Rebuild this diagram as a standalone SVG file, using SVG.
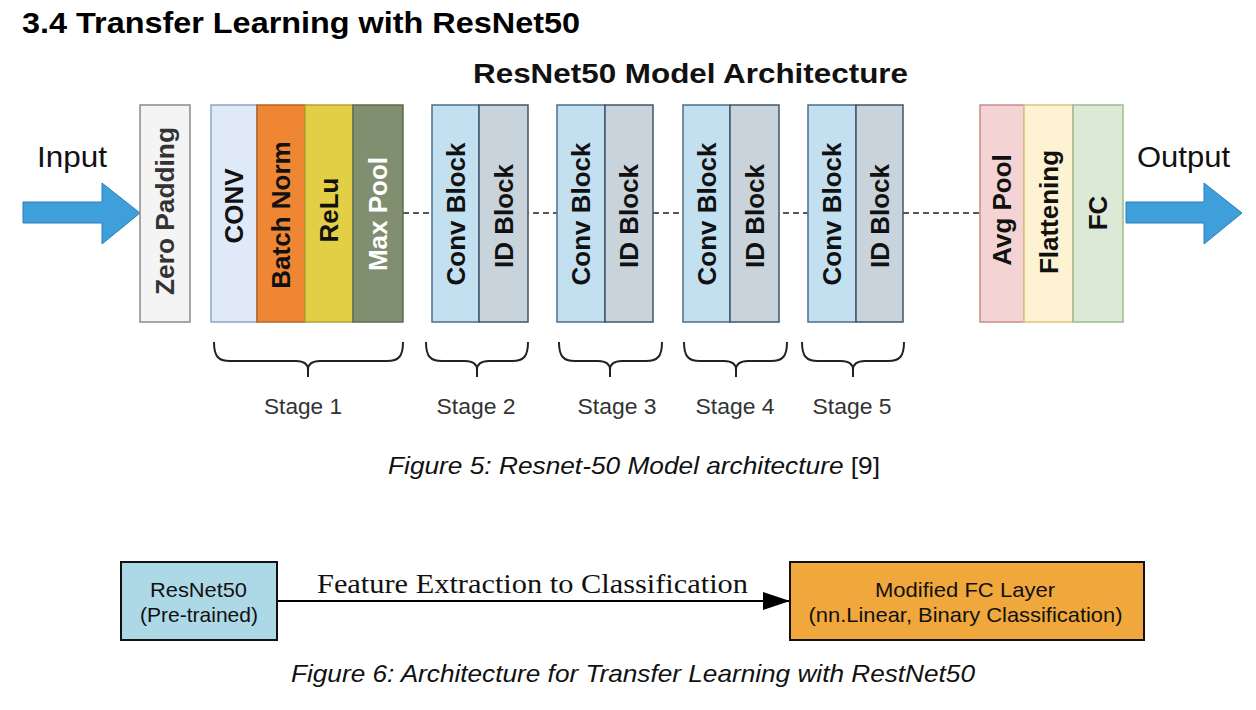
<svg xmlns="http://www.w3.org/2000/svg" width="1256" height="710" viewBox="0 0 1256 710">
<defs>
<style>
.sans{font-family:"Liberation Sans",Arial,sans-serif}
.lbl{font-family:"Liberation Sans",Arial,sans-serif;font-size:26px;font-weight:bold;text-anchor:middle;fill:#111}
.blk{stroke-width:1.5}
.stage{font-family:"Liberation Sans",Arial,sans-serif;font-size:22px;fill:#333;text-anchor:middle}
.brace{fill:none;stroke:#222;stroke-width:2}
.bigarrow{fill:#3f9fdb;stroke:#2b7fb8;stroke-width:1}
.cap{font-family:"Liberation Sans",Arial,sans-serif;font-size:24px;font-style:italic;fill:#111}
.box{stroke:#111;stroke-width:2}
.boxtxt{font-family:"Liberation Sans",Arial,sans-serif;font-size:21px;fill:#111;text-anchor:middle}
</style>
<marker id="ah" markerUnits="userSpaceOnUse" markerWidth="28" markerHeight="18" refX="27" refY="9" orient="auto">
<path d="M0,0 L27,9 L0,18 Z" fill="#000"/>
</marker>
</defs>
<rect width="1256" height="710" fill="#fff"/>

<text class="sans" x="22" y="33" font-size="30" font-weight="bold" fill="#000" textLength="558" lengthAdjust="spacingAndGlyphs">3.4 Transfer Learning with ResNet50</text>
<text class="sans" x="473" y="83" font-size="28" font-weight="bold" fill="#111" textLength="435" lengthAdjust="spacingAndGlyphs">ResNet50 Model Architecture</text>

<g id="connectors">
<line x1="403" y1="213" x2="980" y2="213" stroke="#222" stroke-width="1.5" stroke-dasharray="6 4"/>
<line x1="277" y1="601" x2="790" y2="601" stroke="#000" stroke-width="2" marker-end="url(#ah)"/>
<text x="317" y="593" font-family="'Liberation Serif','Times New Roman',serif" font-size="27" fill="#111" textLength="431" lengthAdjust="spacingAndGlyphs">Feature Extraction to Classification</text>
</g>

<g id="input">
<text class="sans" x="37" y="167" font-size="30" fill="#111" textLength="70" lengthAdjust="spacingAndGlyphs">Input</text>
<polygon class="bigarrow" points="23,202 102,202 102,183 140,213 102,244 102,223 23,223"/>
</g>

<g id="zero-padding">
<rect class="blk" x="140" y="105" width="50" height="217" fill="#f4f4f4" stroke="#8a8a8a"/>
<text class="lbl" transform="translate(165,211) rotate(-90)" dy="0.35em" style="fill:#333" textLength="168" lengthAdjust="spacingAndGlyphs">Zero Padding</text>
</g>

<g id="stage1">
<rect class="blk" x="211" y="105" width="46" height="217" fill="#dfe9f7" stroke="#8aa6c8"/>
<rect class="blk" x="257" y="105" width="48" height="217" fill="#ee8633" stroke="#b56224"/>
<rect class="blk" x="305" y="105" width="48" height="217" fill="#e3cf46" stroke="#b5a232"/>
<rect class="blk" x="353" y="105" width="50" height="217" fill="#7f8f6f" stroke="#5d6b50"/>
<text class="lbl" transform="translate(234,206) rotate(-90)" dy="0.35em">CONV</text>
<text class="lbl" transform="translate(281,215) rotate(-90)" dy="0.35em">Batch Norm</text>
<text class="lbl" transform="translate(329,210) rotate(-90)" dy="0.35em">ReLu</text>
<text class="lbl" transform="translate(378,214) rotate(-90)" dy="0.35em" style="fill:#fff">Max Pool</text>
</g>

<g id="stage2">
<rect class="blk" x="432" y="105" width="47" height="217" fill="#c3e0f0" stroke="#4d6d8c"/>
<rect class="blk" x="479" y="105" width="49" height="217" fill="#c9d3dc" stroke="#3f556b"/>
<text class="lbl" transform="translate(455.5,214) rotate(-90)" dy="0.35em">Conv Block</text>
<text class="lbl" transform="translate(503.5,216) rotate(-90)" dy="0.35em">ID Block</text>
</g>

<g id="stage3">
<rect class="blk" x="557" y="105" width="48" height="217" fill="#c3e0f0" stroke="#4d6d8c"/>
<rect class="blk" x="605" y="105" width="48" height="217" fill="#c9d3dc" stroke="#3f556b"/>
<text class="lbl" transform="translate(581,214) rotate(-90)" dy="0.35em">Conv Block</text>
<text class="lbl" transform="translate(629,216) rotate(-90)" dy="0.35em">ID Block</text>
</g>

<g id="stage4">
<rect class="blk" x="683" y="105" width="47" height="217" fill="#c3e0f0" stroke="#4d6d8c"/>
<rect class="blk" x="730" y="105" width="49" height="217" fill="#c9d3dc" stroke="#3f556b"/>
<text class="lbl" transform="translate(706.5,214) rotate(-90)" dy="0.35em">Conv Block</text>
<text class="lbl" transform="translate(754.5,216) rotate(-90)" dy="0.35em">ID Block</text>
</g>

<g id="stage5">
<rect class="blk" x="808" y="105" width="48" height="217" fill="#c3e0f0" stroke="#4d6d8c"/>
<rect class="blk" x="856" y="105" width="47" height="217" fill="#c9d3dc" stroke="#3f556b"/>
<text class="lbl" transform="translate(832,214) rotate(-90)" dy="0.35em">Conv Block</text>
<text class="lbl" transform="translate(879.5,216) rotate(-90)" dy="0.35em">ID Block</text>
</g>

<g id="head">
<rect class="blk" x="980" y="105" width="44" height="217" fill="#f3d3d3" stroke="#c98c8c"/>
<rect class="blk" x="1024" y="105" width="49" height="217" fill="#fdf3d3" stroke="#dcc47c"/>
<rect class="blk" x="1073" y="105" width="50" height="217" fill="#dde9d7" stroke="#9dbb8f"/>
<text class="lbl" transform="translate(1002,210) rotate(-90)" dy="0.35em">Avg Pool</text>
<text class="lbl" transform="translate(1048.5,212) rotate(-90)" dy="0.35em">Flattening</text>
<text class="lbl" transform="translate(1098,213) rotate(-90)" dy="0.35em">FC</text>
</g>

<g id="output">
<text class="sans" x="1137" y="167" font-size="30" fill="#111" textLength="93" lengthAdjust="spacingAndGlyphs">Output</text>
<polygon class="bigarrow" points="1126,202 1204,202 1204,183 1242,213 1204,244 1204,223 1126,223"/>
</g>

<g id="braces">
<path class="brace" d="M214,342 C214,356 218,361 230,361 L296,361 C304,361 308,364 308,370 L308,377 M308,370 C308,364 312,361 320,361 L387,361 C399,361 403,356 403,342"/>
<path class="brace" d="M426,342 C426,356 430,361 442,361 L465,361 C473,361 477,364 477,370 L477,377 M477,370 C477,364 481,361 489,361 L512,361 C524,361 528,356 528,342"/>
<path class="brace" d="M559,342 C559,356 563,361 575,361 L598,361 C606,361 610,364 610,370 L610,377 M610,370 C610,364 614,361 622,361 L646,361 C658,361 662,356 662,342"/>
<path class="brace" d="M684,342 C684,356 688,361 700,361 L724,361 C732,361 736,364 736,370 L736,377 M736,370 C736,364 740,361 748,361 L771,361 C783,361 787,356 787,342"/>
<path class="brace" d="M802,342 C802,356 806,361 818,361 L841,361 C849,361 853,364 853,370 L853,377 M853,370 C853,364 857,361 865,361 L888,361 C900,361 904,356 904,342"/>
<text class="stage" x="303" y="414" textLength="78" lengthAdjust="spacingAndGlyphs">Stage 1</text>
<text class="stage" x="476" y="414" textLength="79" lengthAdjust="spacingAndGlyphs">Stage 2</text>
<text class="stage" x="617" y="414" textLength="79" lengthAdjust="spacingAndGlyphs">Stage 3</text>
<text class="stage" x="735" y="414" textLength="79" lengthAdjust="spacingAndGlyphs">Stage 4</text>
<text class="stage" x="852" y="414" textLength="79" lengthAdjust="spacingAndGlyphs">Stage 5</text>
</g>

<text class="cap" x="388" y="474" textLength="492" lengthAdjust="spacingAndGlyphs">Figure 5: Resnet-50 Model architecture <tspan font-style="normal">[9]</tspan></text>

<g id="resnet50">
<rect class="box" x="121" y="562" width="156" height="78" fill="#add8e6"/>
<text class="boxtxt" x="198.5" y="597" textLength="97" lengthAdjust="spacingAndGlyphs">ResNet50</text>
<text class="boxtxt" x="199" y="622" textLength="118" lengthAdjust="spacingAndGlyphs">(Pre-trained)</text>
</g>

<g id="modified-fc">
<rect class="box" x="790" y="562" width="354" height="78" fill="#f0a83c"/>
<text class="boxtxt" x="965" y="597" textLength="180" lengthAdjust="spacingAndGlyphs">Modified FC Layer</text>
<text class="boxtxt" x="965.5" y="622" textLength="314" lengthAdjust="spacingAndGlyphs">(nn.Linear, Binary Classification)</text>
</g>

<text class="cap" x="291" y="682" textLength="684" lengthAdjust="spacingAndGlyphs">Figure 6: Architecture for Transfer Learning with RestNet50</text>
</svg>
